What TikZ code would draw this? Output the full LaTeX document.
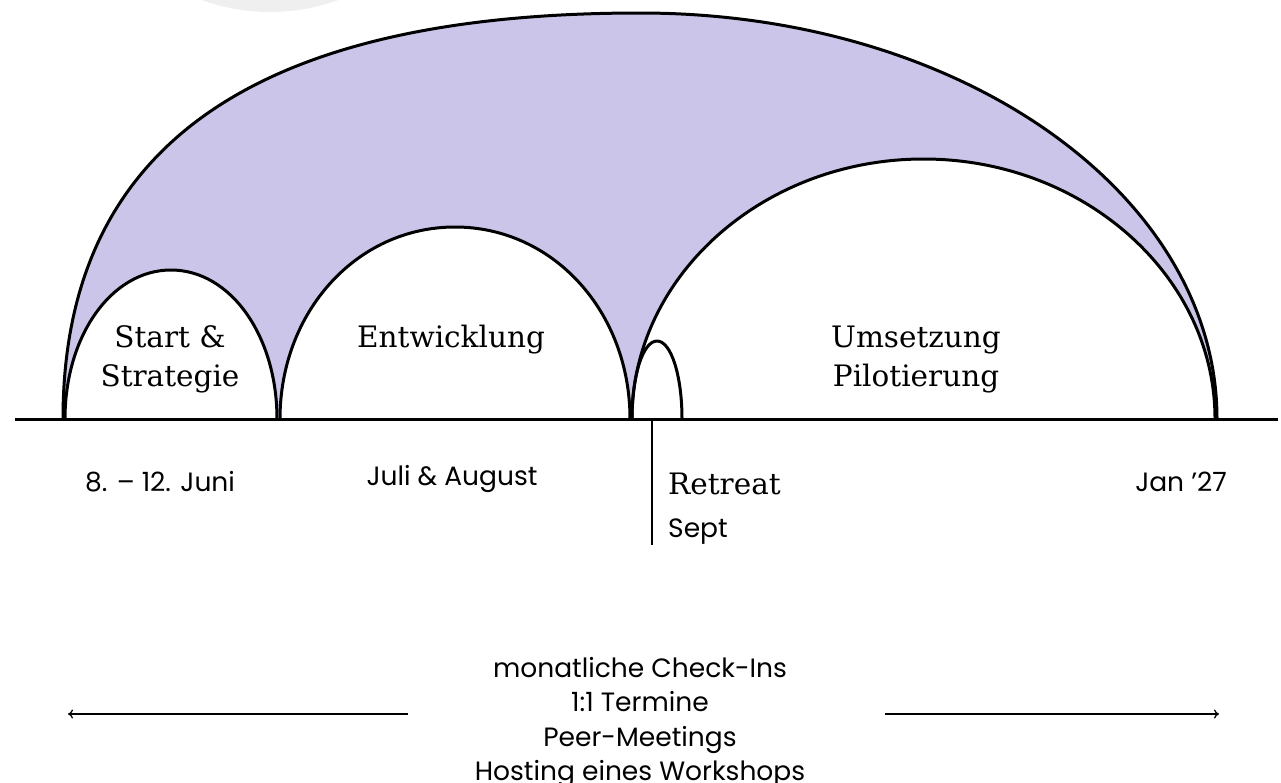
\documentclass[tikz,border=0pt]{standalone}
\usepackage{fontspec}
\usetikzlibrary{arrows.meta}
\setmainfont{DejaVu Serif}
\newfontfamily\sansf{Poppins}
\definecolor{lilac}{RGB}{203,198,233}
\definecolor{ghost}{RGB}{239,239,239}
\newcommand\archpath[4]{(#1,419) .. controls (#1,{419-(419-#3)*#4}) and ({(#1+#2)/2-(#2-#1)/2*#4},#3) .. ({(#1+#2)/2},#3) .. controls ({(#1+#2)/2+(#2-#1)/2*#4},#3) and (#2,{419-(419-#3)*#4}) .. (#2,419)}
\newcommand\outerpath{(63,419) .. controls (63,{419-406*0.67}) and ({640-577*0.67},13) .. (640,13) .. controls ({640+577*0.555},13) and (1217,{419-406*0.555}) .. (1217,419)}
\tikzset{
  archline/.style={line width=3pt, line join=round},
  serifl/.style={font=\fontsize{29.5}{38.5}\selectfont, inner sep=0pt, align=center},
  sansl/.style={font=\sansf\fontsize{26.5}{34.5}\selectfont, inner sep=0pt, align=center},
  arr/.style={line width=1.3pt, -{To[length=5pt,width=9pt]}}
}
\begin{document}
\begin{tikzpicture}[x=1pt,y=-1pt]
\useasboundingbox (0,0) rectangle (1281,782);
\begin{scope}
\clip (0,0) rectangle (1281,782);
\fill[ghost] (270,-188) circle (200);
\end{scope}
% outer arch fill
\fill[lilac] \outerpath -- cycle;
% inner arches white
\fill[white] \archpath{65}{277}{270}{0.56} -- cycle;
\fill[white] \archpath{280}{630}{227}{0.56} -- cycle;
\fill[white] \archpath{632}{1215}{159}{0.55} -- cycle;
% strokes
\draw[archline] \outerpath;
\draw[archline] \archpath{65}{277}{270}{0.56};
\draw[archline] \archpath{280}{630}{227}{0.56};
\draw[archline] \archpath{632}{1215}{159}{0.55};
\draw[archline] \archpath{632}{682}{341}{0.56};
% baseline
\coordinate (bl) at (15,419);
\coordinate (br) at (1278,419);
\draw[line width=3pt] (bl) -- (br);
\coordinate (vt) at (652,419);
\coordinate (vb) at (652,545);
\draw[line width=1.6pt] (vt) -- (vb);
% phase labels
\node[serifl, anchor=base] (start) at (170,386) {Start \&\\Strategie};
\node[serifl, anchor=base] (entw) at (451,347) {Entwicklung};
\node[serifl, anchor=base] (ums) at (916,386) {Umsetzung\\Pilotierung};
\node[serifl, anchor=base west] (retreat) at (668,494) {Retreat};
% dates
\node[sansl, anchor=base] (d1) at (160,491) {8. – 12. Juni};
\node[sansl, anchor=base] (d2) at (452,485) {Juli \& August};
\node[sansl, anchor=base west] (d3) at (668,537) {Sept};
\node[sansl, anchor=base] (d4) at (1181,491) {Jan ’27};
% bottom
\node[sansl, anchor=north] (bottom) at (640,657) {monatliche Check-Ins\\1:1 Termine\\Peer-Meetings\\Hosting eines Workshops};
\coordinate (la) at (408,714);
\coordinate (lb) at (68,714);
\coordinate (ra) at (885,714);
\coordinate (rb) at (1219,714);
\draw[arr] (la) -- (lb);
\draw[arr] (ra) -- (rb);
\end{tikzpicture}
\end{document}
